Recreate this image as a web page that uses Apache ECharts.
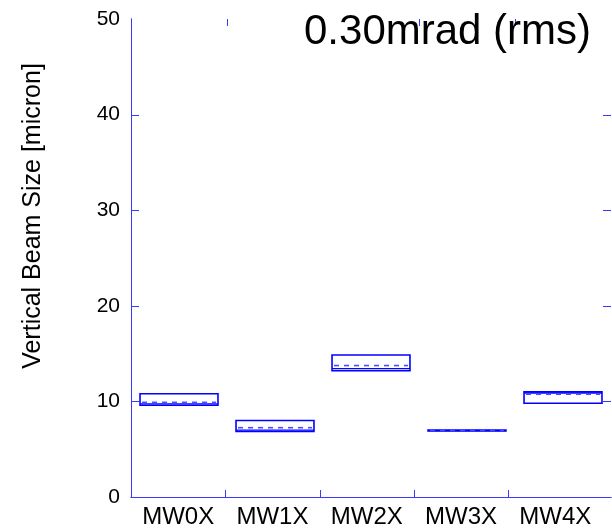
<!DOCTYPE html>
<html><head><meta charset="utf-8">
<script src="https://cdn.jsdelivr.net/npm/echarts@6/dist/echarts.min.js"></script>
<style>html,body{margin:0;padding:0;background:#fff}#c{width:612px;height:529px}</style>
</head><body><div id="c"></div>
<script>
var categories = ['MW0X', 'MW1X', 'MW2X', 'MW3X', 'MW4X'];
var lower  = [9.6, 6.85, 13.2, 6.92, 9.8];
var upper  = [10.8, 8.0, 14.85, 7.0, 11.0];
var dashed = [9.9, 7.25, 13.75, 6.96, 10.75];
var solid  = [9.75, 7.0, 13.42, 6.95, 10.88];
var yTicks = [10, 20, 30, 40];
var topTicks = [1, 2, 3, 4];
var bottomTicks = [1, 2, 3, 4];
var titleText = '0.30mrad (rms)';
var yName = 'Vertical Beam Size [micron]';

var FONT = 'Liberation Sans, Arial, Helvetica, sans-serif';
var BLUE = '#0000ff';
var AXIS = '#3a3aff';
var chart = echarts.init(document.getElementById('c'));
var data = categories.map(function (c, i) { return [i + 0.5, lower[i], upper[i], dashed[i], solid[i]]; });
var HALF = 0.406;

function tickLine(x1, y1, x2, y2) {
  return { type: 'line', shape: { x1: x1, y1: y1, x2: x2, y2: y2 }, style: { stroke: AXIS, lineWidth: 1 } };
}

chart.setOption({
  animation: false,
  backgroundColor: '#fff',
  grid: [
    { left: 131, top: 19, width: 480, height: 478 },
    { left: 131, top: 19, width: 471.5, height: 478 }
  ],
  xAxis: [
    { type: 'value', gridIndex: 0, min: 0, max: 5, interval: 1, position: 'bottom',
      axisLine: { show: true, lineStyle: { color: AXIS, width: 1 } },
      axisTick: { show: false }, axisLabel: { show: false }, splitLine: { show: false } },
    { type: 'value', gridIndex: 0, min: 0, max: 5, interval: 1, position: 'top',
      axisLine: { show: true, lineStyle: { color: AXIS, width: 1 } },
      axisTick: { show: false }, axisLabel: { show: false }, splitLine: { show: false } },
    { type: 'category', gridIndex: 1, data: categories, position: 'bottom', boundaryGap: true,
      axisLine: { show: false }, axisTick: { show: false },
      axisLabel: { show: true, color: '#000', fontFamily: FONT, fontSize: 24, margin: 8 },
      splitLine: { show: false } }
  ],
  yAxis: [
    { type: 'value', gridIndex: 0, min: 0, max: 50, interval: 10, position: 'left',
      name: yName, nameLocation: 'middle', nameGap: 85,
      nameTextStyle: { color: '#000', fontFamily: FONT, fontSize: 25, padding: [0, 0, 0, 84] },
      axisLine: { show: true, lineStyle: { color: AXIS, width: 1 } },
      axisTick: { show: false },
      axisLabel: { show: true, color: '#000', fontFamily: FONT, fontSize: 21, margin: 11 },
      splitLine: { show: false } },
    { type: 'value', gridIndex: 0, min: 0, max: 50, interval: 10, position: 'right',
      axisLine: { show: true, lineStyle: { color: AXIS, width: 1 } },
      axisTick: { show: false }, axisLabel: { show: false }, splitLine: { show: false } },
    { type: 'value', gridIndex: 1, min: 0, max: 50, show: false }
  ],
  series: [{
    type: 'custom', xAxisIndex: 0, yAxisIndex: 0, data: data, z: 3,
    renderItem: function (params, api) {
      var x = api.value(0);
      var pL = api.coord([x - HALF, api.value(1)]);
      var pH = api.coord([x + HALF, api.value(2)]);
      var yD = api.coord([x, api.value(3)])[1];
      var yS = api.coord([x, api.value(4)])[1];
      return { type: 'group', children: [
        { type: 'rect', shape: { x: pL[0], y: pH[1], width: pH[0] - pL[0], height: Math.max(pL[1] - pH[1], 0.5) },
          style: { fill: null, stroke: BLUE, lineWidth: 1.6 } },
        { type: 'line', shape: { x1: pL[0], y1: yS, x2: pH[0], y2: yS },
          style: { stroke: BLUE, lineWidth: 1.3 } },
        { type: 'line', shape: { x1: pL[0] + 2, y1: yD, x2: pH[0] - 2, y2: yD },
          style: { stroke: '#4a4aff', lineWidth: 1.6, lineDash: [5, 5] } }
      ] };
    }
  }, {
    // left/right y ticks and top x ticks on the main grid's scales
    type: 'custom', xAxisIndex: 0, yAxisIndex: 0, data: [0], silent: true, z: 2,
    renderItem: function (params, api) {
      var kids = [];
      var x0 = api.coord([0, 0])[0], x5 = api.coord([5, 0])[0];
      yTicks.forEach(function (v) {
        var y = Math.round(api.coord([0, v])[1]) + 0.5;
        kids.push(tickLine(x0, y, x0 + 8, y));
        kids.push(tickLine(x5, y, x5 - 8, y));
      });
      var yTop = api.coord([0, 50])[1];
      topTicks.forEach(function (v) {
        var x = Math.round(api.coord([v, 50])[0]) + 0.5;
        kids.push(tickLine(x, yTop, x, yTop + 7));
      });
      return { type: 'group', children: kids };
    }
  }, {
    // bottom ticks at category boundaries of the label axis
    type: 'custom', xAxisIndex: 2, yAxisIndex: 2, data: [0], silent: true, z: 2,
    renderItem: function (params, api) {
      var kids = [];
      var bw = api.size([1, 0])[0];
      var yB = api.coord([0, 0])[1];
      bottomTicks.forEach(function (i) {
        var x = Math.round(api.coord([i, 0])[0] - bw / 2) + 0.5;
        kids.push(tickLine(x, yB, x, yB - 7));
      });
      return { type: 'group', children: kids };
    }
  }],
  graphic: [{
    type: 'text', left: 304, top: 11, z: 100,
    style: { text: titleText, fill: '#000', font: '42px ' + FONT }
  }]
});
</script></body></html>
